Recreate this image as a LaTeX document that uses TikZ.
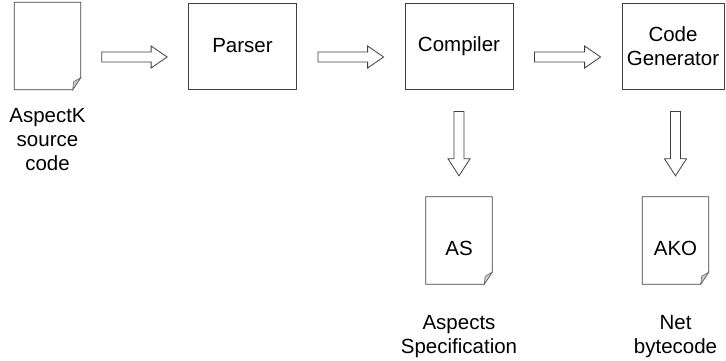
\documentclass[tikz,border=0pt]{standalone}
\usepackage{fontspec}
\setmainfont{Liberation Sans}
\usetikzlibrary{calc,positioning}

% folded page drawn round an empty node
\newcommand{\pageoutline}[1]{%
  \draw [docline] (#1.north west) -- (#1.north east) -- ([yshift=12pt]#1.south east)
    -- ([xshift=-8pt]#1.south east) -- (#1.south west) -- cycle;
  \draw [fold] ([yshift=12pt]#1.south east) -- ([xshift=-8pt]#1.south east)
    -- ([xshift=-7pt,yshift=8pt]#1.south east) -- cycle;}
% hollow block arrows between nodes
\newcommand{\flowright}[2]{%
  \draw [hollow] let \p1=(#1.east), \p2=(#2.west) in
    (\x1+21pt,\y1-6pt) -- (\x2-37pt,\y1-6pt) -- (\x2-37pt,\y1) -- (\x2-21pt,\y1-11pt)
    -- (\x2-37pt,\y1-22pt) -- (\x2-37pt,\y1-16pt) -- (\x1+21pt,\y1-16pt) -- cycle;}
\newcommand{\flowdown}[2]{%
  \draw [hollow] let \p1=(#1.south), \p2=(#2.north) in
    (\x2-5pt,\y1-22pt) -- (\x2-5pt,\y2+38pt) -- (\x2-11pt,\y2+38pt) -- (\x2,\y2+21pt)
    -- (\x2+11pt,\y2+38pt) -- (\x2+5pt,\y2+38pt) -- (\x2+5pt,\y1-22pt) -- cycle;}

\begin{document}
\begin{tikzpicture}[x=1pt, y=1pt,
    every node/.style={font=\fontsize{20.5pt}{24pt}\selectfont, inner sep=0pt},
    stagebox/.style={draw=black!75, line width=0.8pt, minimum width=108pt, minimum height=86pt, align=center},
    docpage/.style={minimum width=66pt, minimum height=87pt},
    docline/.style={draw=black!75, line width=0.8pt, line join=miter},
    fold/.style={draw=black!60, fill=black!20, line width=0.6pt},
    hollow/.style={draw=black!75, line width=0.8pt, fill=white},
    doclabel/.style={align=center, anchor=base}]
    \useasboundingbox (0,0) rectangle (726,-360);

    \node [docpage] (srcdoc) at (47.5,-46) {};
    \node [stagebox] (parser) at (242.5,-46) {Parser};
    \node [stagebox] (compiler) at (459,-46) {Compiler};
    \node [stagebox, minimum width=102pt] (codegen) at (673,-46) {Code\\Generator};
    \node [docpage] (asdoc) at (459,-240.5) {};
    \node [docpage] (akodoc) at (675.5,-240.5) {};
    \node (astext) at (459,-248) {AS};
    \node (akotext) at (675.5,-248) {AKO};

    \pageoutline{srcdoc}
    \pageoutline{asdoc}
    \pageoutline{akodoc}

    % base sits on the last line
    \node [doclabel] (srclabel) at (47.5,-170) {AspectK\\source\\code};
    \node [doclabel] (aslabel) at (459,-353) {Aspects\\Specification};
    \node [doclabel] (akolabel) at (675.5,-353) {Net\\bytecode};

    \flowright{srcdoc}{parser}
    \flowright{parser}{compiler}
    \flowright{compiler}{codegen}
    \flowdown{compiler}{asdoc}
    \flowdown{codegen}{akodoc}
\end{tikzpicture}
\end{document}
